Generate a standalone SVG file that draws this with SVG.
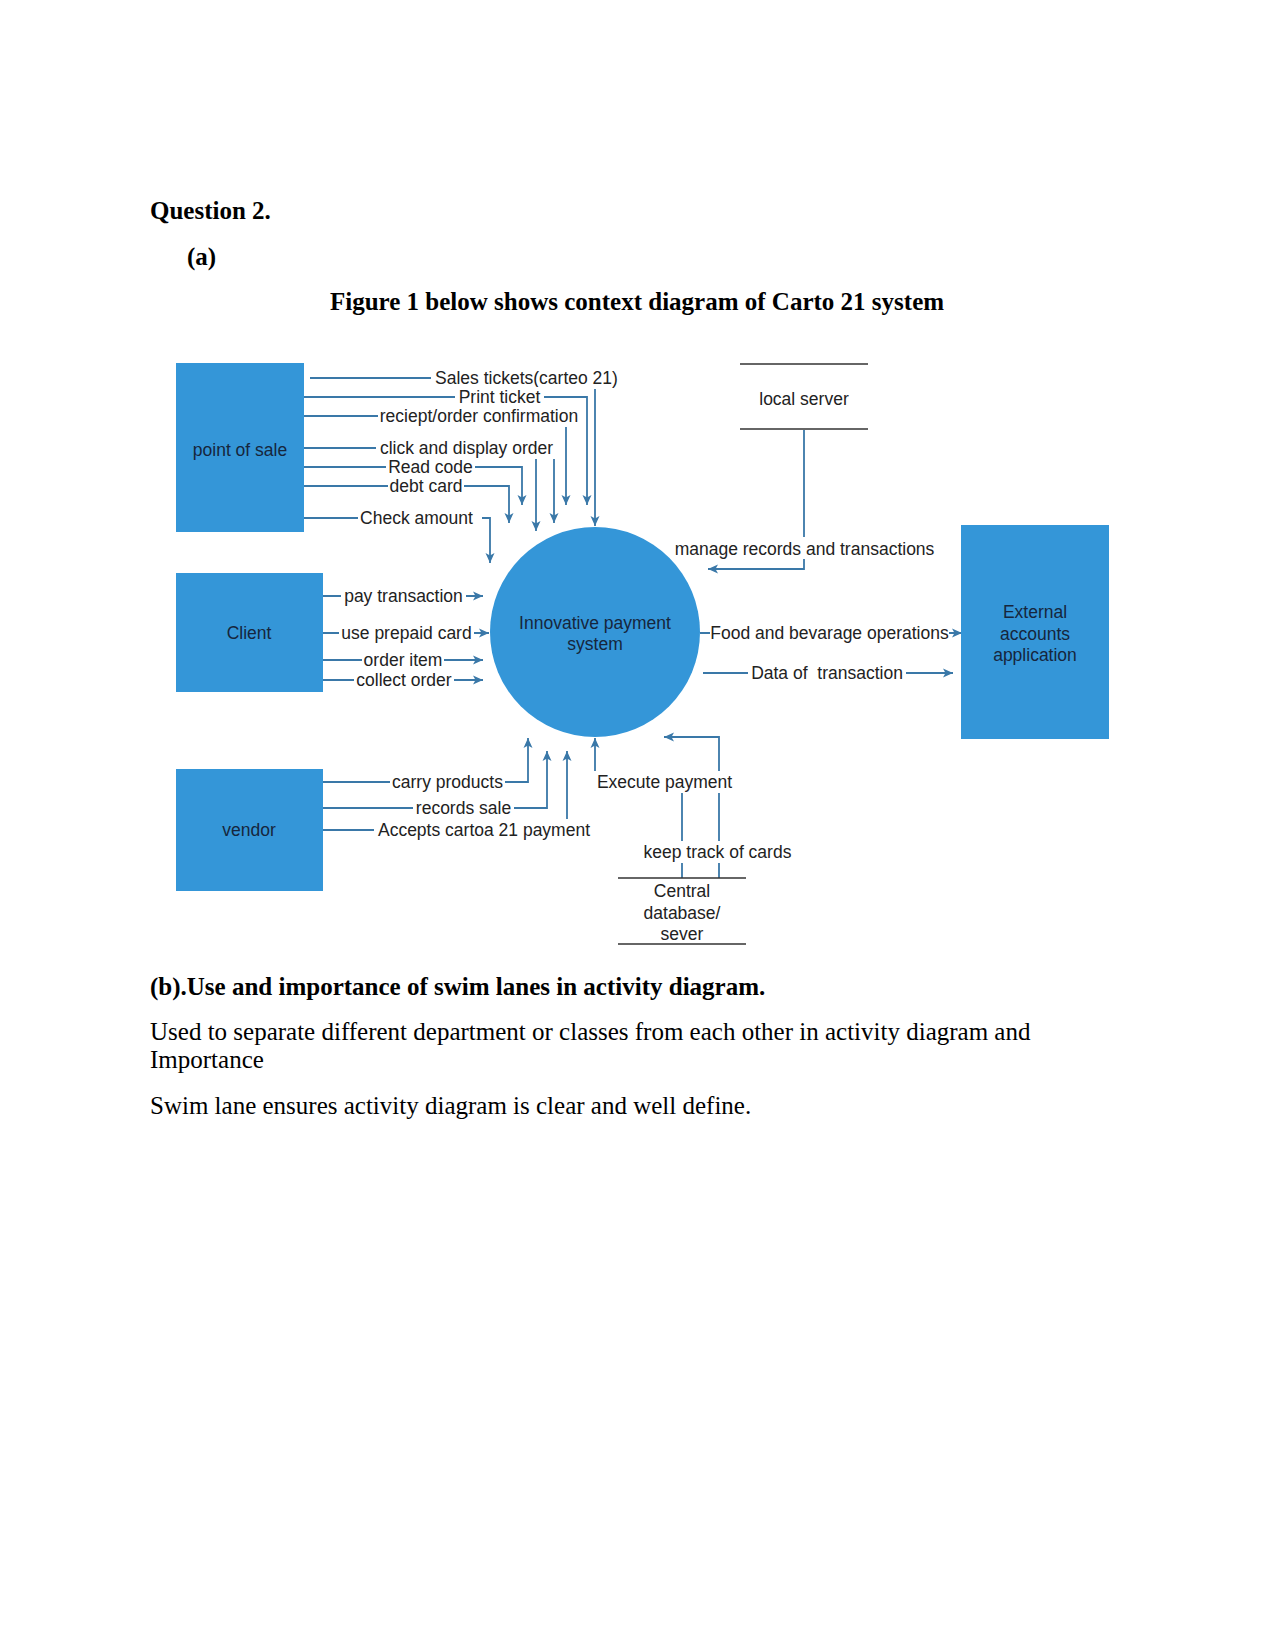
<svg xmlns="http://www.w3.org/2000/svg" width="1275" height="1650" viewBox="0 0 1275 1650">
<defs>
<style>
.doc{font-family:"Liberation Serif","Times New Roman",serif;font-size:25px;fill:#000}
.b{font-weight:bold}
.ent{fill:#3496d8}
.nt{font-family:"Liberation Sans",Arial,sans-serif;font-size:17.5px;fill:#16263d;text-anchor:middle}
.lbl{font-family:"Liberation Sans",Arial,sans-serif;font-size:17.5px;fill:#222;text-anchor:middle}
.bg{fill:#fff}
.ln{fill:none;stroke:#3a78a8;stroke-width:1.8}
.arr{marker-end:url(#ah)}
.st{stroke:#333;stroke-width:1.6}
</style>
<marker id="ah" viewBox="0 0 10 10" refX="10" refY="5" markerWidth="10" markerHeight="10" markerUnits="userSpaceOnUse" orient="auto">
<path d="M0,0.5 L10,5 L0,9.5 L2.5,5 z" fill="#3a78a8"/>
</marker>
</defs>
<rect width="1275" height="1650" fill="#fff"/>

<g id="document-text">
<text class="doc b" x="150" y="219">Question 2.</text>
<text class="doc b" x="187" y="265">(a)</text>
<text class="doc b" x="330" y="310">Figure 1 below shows context diagram of Carto 21 system</text>
<text class="doc b" x="150" y="995">(b).Use and importance of swim lanes in activity diagram.</text>
<text class="doc" x="150" y="1040">Used to separate different department or classes from each other in activity diagram and</text>
<text class="doc" x="150" y="1068">Importance</text>
<text class="doc" x="150" y="1114">Swim lane ensures activity diagram is clear and well define.</text>
</g>

<g id="connectors">
<path class="ln arr" d="M310,378 H595 V526"/>
<path class="ln arr" d="M304,397 H587 V505"/>
<path class="ln arr" d="M304,416 H566 V505"/>
<path class="ln arr" d="M304,448 H554 V523"/>
<path class="ln arr" d="M536,448 V531"/>
<path class="ln arr" d="M304,467 H522 V505"/>
<path class="ln arr" d="M304,486 H509 V523"/>
<path class="ln" d="M304,518 H470"/>
<path class="ln arr" d="M482,518 H490 V563"/>
<path class="ln arr" d="M323,596 H483"/>
<path class="ln arr" d="M323,633 H489"/>
<path class="ln arr" d="M323,660 H483"/>
<path class="ln arr" d="M323,680 H483"/>
<path class="ln arr" d="M323,782 H528 V738"/>
<path class="ln arr" d="M323,808 H547 V751"/>
<path class="ln arr" d="M323,830 H567 V751"/>
<path class="ln arr" d="M700,633 H962"/>
<path class="ln arr" d="M703,673 H953"/>
<path class="ln arr" d="M804,430 V569 H708"/>
<path class="ln arr" d="M682,878 V782 H595 V738"/>
<path class="ln arr" d="M719,878 V737 H664"/>

<g id="labels">
<rect class="bg" x="431" y="367" width="191" height="22"/><text class="lbl" x="526.5" y="384">Sales tickets(carteo 21)</text>
<rect class="bg" x="455" y="387" width="89" height="19"/><text class="lbl" x="499.5" y="403">Print ticket</text>
<rect class="bg" x="378" y="405" width="202" height="22"/><text class="lbl" x="479" y="422">reciept/order confirmation</text>
<rect class="bg" x="376" y="437" width="181" height="22"/><text class="lbl" x="466.5" y="454">click and display order</text>
<rect class="bg" x="386" y="457" width="89" height="19"/><text class="lbl" x="430.5" y="473">Read code</text>
<rect class="bg" x="388" y="476" width="76" height="19"/><text class="lbl" x="426" y="492">debt card</text>
<rect class="bg" x="358" y="507" width="117" height="22"/><text class="lbl" x="416.5" y="524">Check amount</text>
<rect class="bg" x="341" y="585" width="125" height="22"/><text class="lbl" x="403.5" y="602">pay transaction</text>
<rect class="bg" x="339" y="622" width="135" height="22"/><text class="lbl" x="406.5" y="639">use prepaid card</text>
<rect class="bg" x="362" y="651" width="82" height="18"/><text class="lbl" x="403" y="666">order item</text>
<rect class="bg" x="354" y="671" width="100" height="18"/><text class="lbl" x="404" y="686">collect order</text>
<rect class="bg" x="390" y="771" width="115" height="22"/><text class="lbl" x="447.5" y="788">carry products</text>
<rect class="bg" x="413" y="797" width="101" height="20"/><text class="lbl" x="463.5" y="814">records sale</text>
<rect class="bg" x="374" y="819" width="220" height="22"/><text class="lbl" x="484" y="836">Accepts cartoa 21 payment</text>
<rect class="bg" x="710" y="622" width="239" height="22"/><text class="lbl" x="829.5" y="639">Food and bevarage operations</text>
<rect class="bg" x="748" y="662" width="158" height="22"/><text class="lbl" x="827" y="679">Data of&#160; transaction</text>
<rect class="bg" x="672" y="537" width="265" height="22"/><text class="lbl" x="804.5" y="555">manage records and transactions</text>
<rect class="bg" x="593" y="771" width="143" height="22"/><text class="lbl" x="664.5" y="788">Execute payment</text>
<rect class="bg" x="641" y="841" width="153" height="22"/><text class="lbl" x="717.5" y="858">keep track of cards</text>
</g>
</g>

<g id="point-of-sale">
<rect class="ent" x="176" y="363" width="128" height="169"/>
<text class="nt" x="240" y="456">point of sale</text>
</g>
<g id="client">
<rect class="ent" x="176" y="573" width="147" height="119"/>
<text class="nt" x="249" y="639">Client</text>
</g>
<g id="vendor">
<rect class="ent" x="176" y="769" width="147" height="122"/>
<text class="nt" x="249" y="836">vendor</text>
</g>
<g id="innovative-payment-system">
<circle class="ent" cx="595" cy="632" r="105"/>
<text class="nt" x="595" y="629">Innovative payment</text>
<text class="nt" x="595" y="650">system</text>
</g>
<g id="external-accounts-application">
<rect class="ent" x="961" y="525" width="148" height="214"/>
<text class="nt" x="1035" y="618">External</text>
<text class="nt" x="1035" y="640">accounts</text>
<text class="nt" x="1035" y="661">application</text>
</g>
<g id="local-server">
<line class="st" x1="740" y1="364" x2="868" y2="364"/>
<line class="st" x1="740" y1="429" x2="868" y2="429"/>
<text class="lbl" x="804" y="405">local server</text>
</g>
<g id="central-database">
<line class="st" x1="618" y1="878" x2="746" y2="878"/>
<line class="st" x1="618" y1="944" x2="746" y2="944"/>
<text class="lbl" x="682" y="897">Central</text>
<text class="lbl" x="682" y="919">database/</text>
<text class="lbl" x="682" y="940">sever</text>
</g>
</svg>
